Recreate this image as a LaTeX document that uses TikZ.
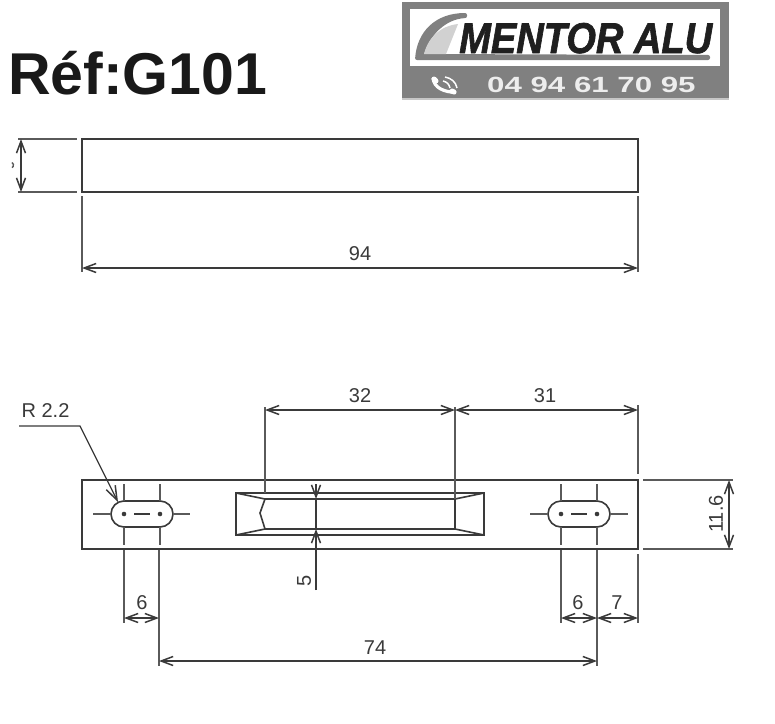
\documentclass[tikz,border=0pt]{standalone}
\usepackage{fontspec}
\setmainfont{Liberation Sans}
\newfontfamily\heavyfont[FakeBold=1.6]{Liberation Sans}
\usetikzlibrary{arrows.meta}
\definecolor{ink}{HTML}{3A3A3A}
\definecolor{soft}{HTML}{5A5A5A}
\definecolor{logogray}{HTML}{808080}
\tikzset{
  part/.style={draw=ink,line width=1.6pt},
  dimline/.style={draw=ink,line width=1.3pt,{Straight Barb[length=12pt,width=9pt,line width=1.5pt]}-{Straight Barb[length=12pt,width=9pt,line width=1.5pt]}},
  extline/.style={draw=soft,line width=1.4pt},
  dimtext/.style={font=\fontsize{20}{20}\selectfont,text=ink,inner sep=0pt},
}
\begin{document}
\begin{tikzpicture}[x=1pt,y=-1pt]
\useasboundingbox (0,0) rectangle (775,723);
\fill[white] (0,0) rectangle (775,723);
% title
\node[anchor=base west,inner sep=0pt,font=\fontsize{59}{59}\selectfont\bfseries,text=black!90] (title) at (8,94) {Réf:G101};
% logo
\fill[logogray] (402,2) rectangle (729,100);
\fill[white] (410,9) rectangle (720,66);
\fill[black!22] (402,98) rectangle (729,100);
\fill[logogray,rounded corners=2pt] (415,60) .. controls (417,32) and (435,13) .. (467,13) -- (467,18) .. controls (445,19) and (430,36) .. (424,54) -- (710,55) -- (710,60) -- cycle;
\fill[black!18] (424,54) .. controls (428,38) and (440,26) .. (458,24) -- (446,54) -- cycle;
\node[anchor=base west,inner sep=0pt,font=\fontsize{43}{43}\selectfont\heavyfont\bfseries\itshape,text=black!88] (brand) at (459,53) {\scalebox{.885}[1]{MENTOR ALU}};
\node[anchor=base west,inner sep=0pt,font=\fontsize{22}{22}\selectfont\bfseries,text=black!7] (phone) at (487,92) {\scalebox{1.42}[1]{04 94 61 70 95}};
\draw[white,line width=3.2pt] (433,78) .. controls (434,88) and (444,92) .. (456,92.5);
\draw[white,line width=5pt,line cap=round] (434,79) -- (436,81) (452,91) -- (454,92);
\draw[white,line width=1.5pt] (443,81) .. controls (447,82) and (449,84) .. (450,88) (445,77) .. controls (451,78) and (456,82) .. (457,88);
% top view
\draw[part] (82,139) rectangle (638,192);
\draw[extline] (18,139) -- (77,139) (18,192) -- (77,192);
\draw[dimline] (21,139) -- (21,192);
\draw[soft,line width=1.4pt] (12,162.5) arc (-60:60:3);
\draw[extline] (82,196) -- (82,272) (638,196) -- (638,272);
\draw[dimline] (82,268) -- (638,268);
\node[dimtext] (l94) at (360,254) {94};
% front view
\draw[part] (82,480) rectangle (638,549);
% left slot
\draw[part] (124,501) -- (160,501) arc (-90:90:13) -- (124,527) arc (90:270:13) -- cycle;
\draw[extline] (93,514) -- (110,514) (174,514) -- (190,514) (124,484) -- (124,501) (124,527) -- (124,545) (160,484) -- (160,501) (160,527) -- (160,545);
\draw[ink,line width=1.5pt] (134,514) -- (150,514);
\fill[ink] (124,514) circle (2.3pt) (160,514) circle (2.3pt);
% right slot
\draw[part] (561,501) -- (597,501) arc (-90:90:13) -- (561,527) arc (90:270:13) -- cycle;
\draw[extline] (530,514) -- (547,514) (611,514) -- (628,514) (561,484) -- (561,501) (561,527) -- (561,545) (597,484) -- (597,501) (597,527) -- (597,545);
\draw[ink,line width=1.5pt] (571,514) -- (587,514);
\fill[ink] (561,514) circle (2.3pt) (597,514) circle (2.3pt);
% pocket
\draw[part] (236,493) rectangle (484,535);
\draw[part] (265,499) -- (455,499) -- (455,529) -- (265,529) -- (260,513) -- cycle;
\draw[part] (236,493) -- (265,499) (236,535) -- (265,529) (484,493) -- (455,499) (484,535) -- (455,529);
% dimension extension lines
\draw[extline] (265,407) -- (265,493) (455,407) -- (455,499) (638,405) -- (638,474) (643,480) -- (733,480) (643,549) -- (733,549);
\draw[extline] (124,550) -- (124,623) (159,550) -- (159,666) (561,550) -- (561,623) (597,550) -- (597,666) (638,554) -- (638,623);
% dimensions
\draw[dimline] (265,410) -- (455,410);
\draw[dimline] (455,410) -- (638,410);
\draw[dimline] (729,480) -- (729,549);
\draw[dimline] (124,618) -- (159,618);
\draw[dimline] (561,618) -- (597,618);
\draw[dimline] (597,618) -- (638,618);
\draw[dimline] (159,661) -- (597,661);
\draw[ink,line width=1.3pt,-{Straight Barb[length=12pt,width=9pt,line width=1.5pt]}] (316,484) -- (316,499);
\draw[ink,line width=1.3pt,-{Straight Barb[length=12pt,width=9pt,line width=1.5pt]}] (316,590) -- (316,529);
\draw[ink,line width=1.3pt] (316,499) -- (316,529);
\node[dimtext] (l32) at (360,396) {32};
\node[dimtext] (l31) at (545,396) {31};
\node[dimtext,rotate=90] (l116) at (716,514) {11.6};
\node[dimtext,rotate=90] (l5) at (304,581) {5};
\node[dimtext] (l6a) at (142,603) {6};
\node[dimtext] (l6b) at (578,603) {6};
\node[dimtext] (l7) at (617,603) {7};
\node[dimtext] (l74) at (375,648) {74};
\node[dimtext] (lr) at (45.5,411) {R 2.2};
\coordinate (slot) at (118,502);
\draw[ink,line width=1.3pt,-{Straight Barb[length=14pt,width=10pt,line width=1.5pt]}] (19,426) -- (80,426) -- (slot);
\end{tikzpicture}
\end{document}
